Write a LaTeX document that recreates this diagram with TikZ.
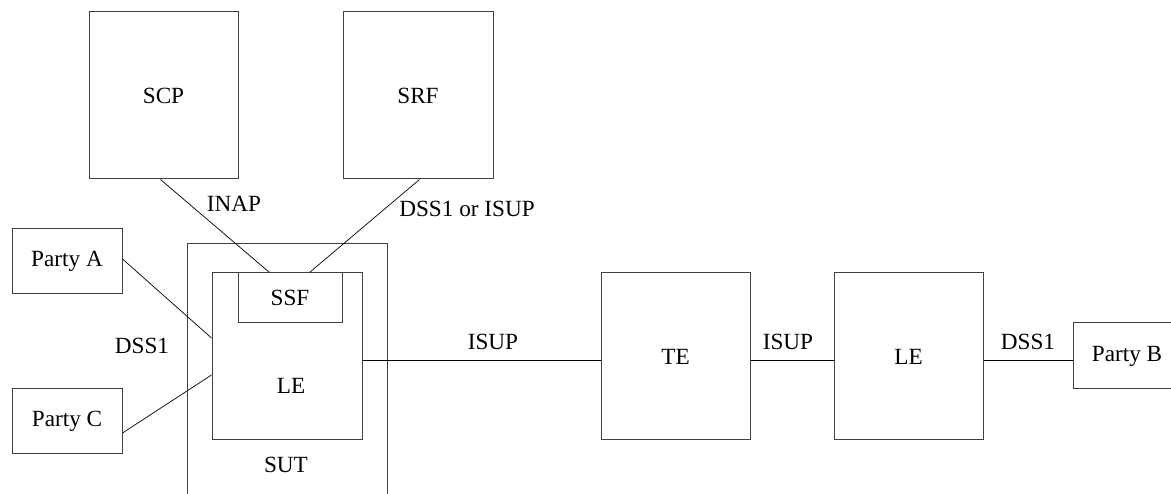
\documentclass[tikz,border=0pt]{standalone}
\usepackage{fontspec}
\setmainfont{Liberation Serif}
\usetikzlibrary{calc}
\begin{document}
\begin{tikzpicture}[x=1pt,y=-1pt,
  box/.style={draw=black!75,line width=1pt,rectangle,inner sep=0pt},
  wire/.style={draw=black,line width=0.7pt},
  lbl/.style={inner sep=0pt,font=\fontsize{23.2}{25}\selectfont},
  every node/.style={font=\fontsize{23.2}{25}\selectfont}]
\useasboundingbox (0,0) rectangle (1171,494);
\clip (0,0) rectangle (1171,494);
% boxes: centre, width, height
\node[box,minimum width=149pt,minimum height=167pt] (scp) at (163.5,95.5) {SCP};
\node[box,minimum width=150pt,minimum height=167pt] (srf) at (418,95.5) {SRF};
\node[box,minimum width=110pt,minimum height=65pt] (pa) at (67,261.5) {Party A};
\node[box,minimum width=110pt,minimum height=65pt] (pc) at (67,421.5) {Party C};
% system under test: open towards the bottom
\coordinate (sutbl) at (187,500);
\coordinate (suttl) at (187,244);
\coordinate (suttr) at (387,244);
\coordinate (sutbr) at (387,500);
\draw[draw=black!75,line width=1pt] (sutbl) -- (suttl) -- (suttr) -- (sutbr);
\node[box,minimum width=150pt,minimum height=167pt] (le) at (287,356.5) {};
\node[box,minimum width=104pt,minimum height=50pt] (ssf) at (290,298) {SSF};
\node[lbl] (letext) at (291,386) {LE};
\node[lbl] (sut) at (286,465) {SUT};
\node[box,minimum width=149pt,minimum height=167pt] (te) at (675.5,356.5) {TE};
\node[box,minimum width=149pt,minimum height=167pt] (le2) at (908.5,356.5) {LE};
\node[box,minimum width=108pt,minimum height=66pt] (pb) at (1127,356) {Party B};
% connectors
\draw[wire] ($(scp.south west)+(72,0)$) -- ($(ssf.north west)+(32,0)$);
\draw[wire] ($(srf.south west)+(77,0)$) -- ($(ssf.north west)+(72,0)$);
\draw[wire] ($(pa.east)+(0,-2.5)$) -- ($(le.west)+(0,-18.5)$);
\draw[wire] ($(pc.east)+(0,11.5)$) -- ($(le.west)+(0,18.5)$);
\draw[wire] ($(le.east)+(0,3.5)$) -- ($(te.west)+(0,3.5)$);
\draw[wire] ($(te.east)+(0,3.5)$) -- ($(le2.west)+(0,3.5)$);
\draw[wire] ($(le2.east)+(0,3.5)$) -- (pb.west |- {$(le2.east)+(0,3.5)$});
% interface labels
\node[lbl] (inap) at (234,204) {INAP};
\node[lbl] (dssisup) at (467,209) {DSS1 or ISUP};
\node[lbl] (dssl) at (142,346) {DSS1};
\node[lbl] (isup1) at (493,342) {ISUP};
\node[lbl] (isup2) at (788,342) {ISUP};
\node[lbl] (dssr) at (1028,342) {DSS1};
\end{tikzpicture}
\end{document}
